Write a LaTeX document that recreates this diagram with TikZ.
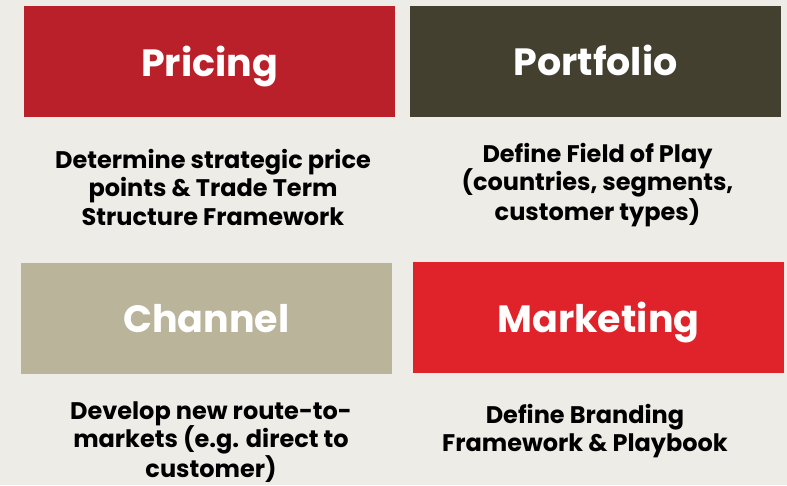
\documentclass[tikz,border=0pt]{standalone}
\usepackage{fontspec}
\setmainfont{Poppins}
\definecolor{bgcream}{HTML}{EEECE6}
\definecolor{pricered}{HTML}{BA2029}
\definecolor{portbrown}{HTML}{444030}
\definecolor{chantan}{HTML}{BAB49B}
\definecolor{markred}{HTML}{E0222A}
\tikzset{
	catbox/.style={fill=#1, text=white, font=\fontsize{38}{44}\selectfont\bfseries},
	desc/.style={align=center, font=\fontsize{24}{28.5}\selectfont\bfseries, text=black},
}
\begin{document}
\begin{tikzpicture}[x=1pt, y=-1pt, inner sep=0pt]
		\fill[bgcream] (0, 0) rectangle (787, 485);
		\useasboundingbox (0, 0) rectangle (787, 485);
		\fill[pricered] (24, 6) rectangle (395, 117);
		\fill[portbrown] (410, 6) rectangle (781, 117);
		\fill[chantan] (21, 263) rectangle (392, 374);
		\fill[markred] (413, 262) rectangle (784, 373);
		\node[catbox=pricered, anchor=base] (pricing) at (209.5, 76) {Pricing};
		\node[catbox=portbrown, anchor=base] (portfolio) at (595.5, 75) {Portfolio};
		\node[catbox=chantan, anchor=base] (channel) at (206.5, 332) {Channel};
		\node[catbox=markred, anchor=base] (marketing) at (598.5, 332) {Marketing};
		\node[desc] (pricingtxt) at (213, 187) {Determine strategic price\\ points \& Trade Term\\ Structure Framework};
		\node[desc] (portfoliotxt) at (597.5, 185) {Define Field of Play\\ (countries, segments,\\ customer types)};
		\node[desc] (channeltxt) at (211, 442) {Develop new route-to-\\ markets (e.g. direct to\\ customer)};
		\node[desc] (marketingtxt) at (585, 431) {Define Branding\\ Framework \& Playbook};
	\end{tikzpicture}
\end{document}
